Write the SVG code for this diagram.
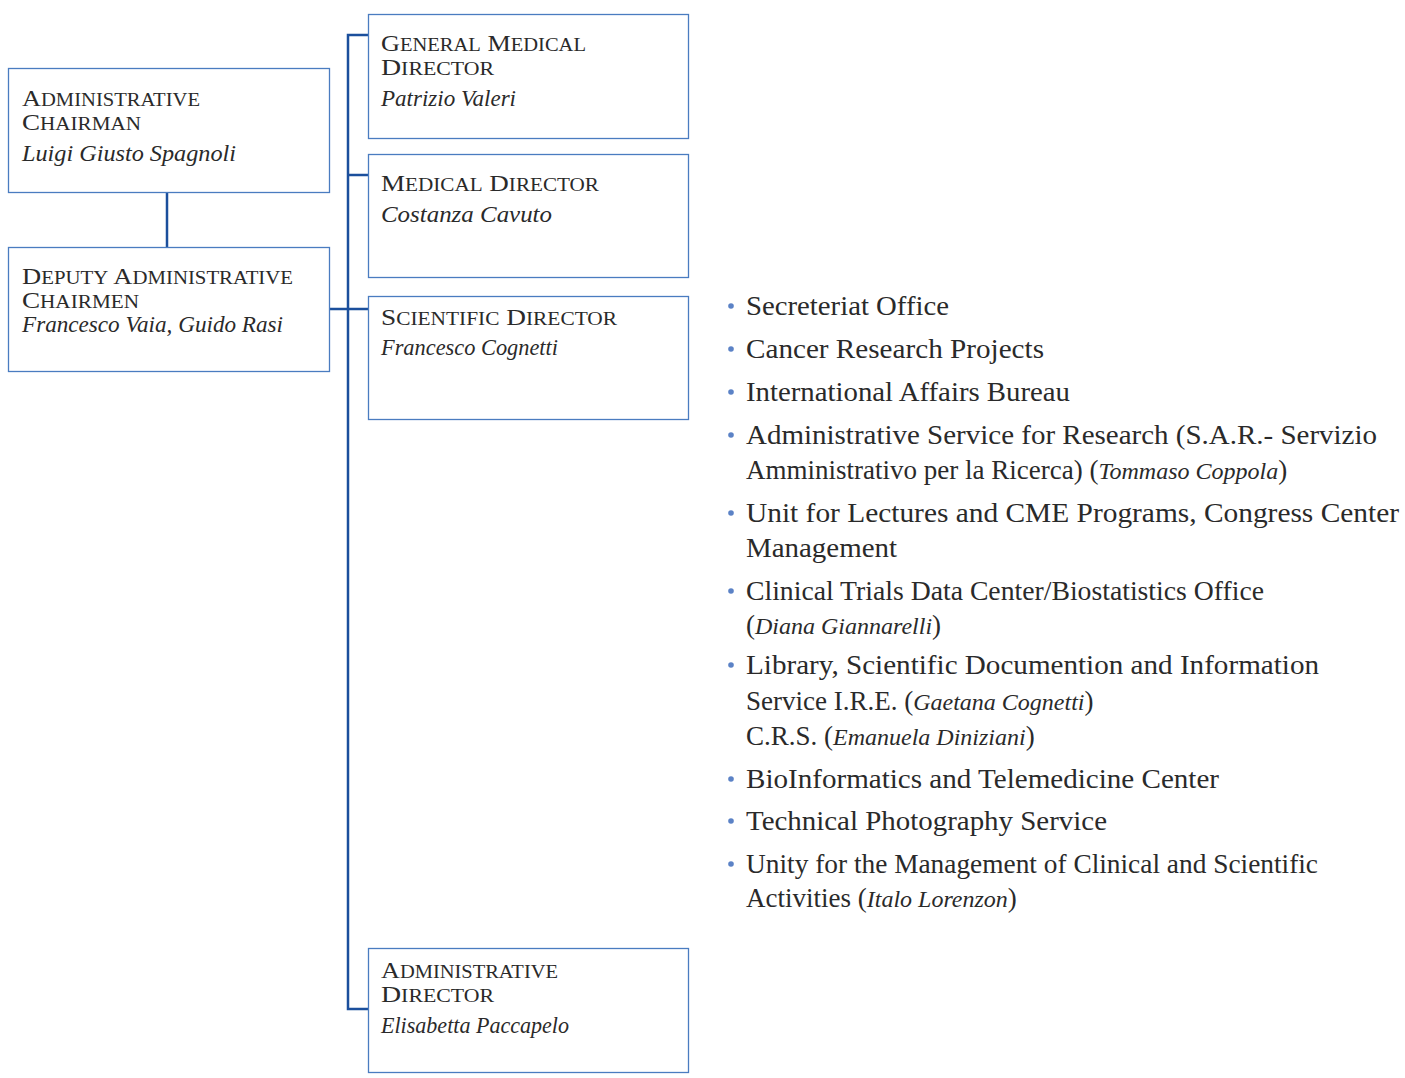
<svg xmlns="http://www.w3.org/2000/svg" width="1405" height="1078" viewBox="0 0 1405 1078">
<style>
.box{fill:#fff;stroke:#4a7cc0;stroke-width:1.3}
.conn{fill:none;stroke:#1b4f9c;stroke-width:2.5}
.t{font-family:"Liberation Serif",serif;fill:#2a2a2a}
.c{font-size:23px}
.s{font-size:18px}
.n{font-size:24px;font-style:italic}
.l{font-family:"Liberation Serif",serif;fill:#2a2a2a;font-size:27px}
.li{font-style:italic;font-size:24px}
.b{fill:#5b82c6}
</style>
<rect width="1405" height="1078" fill="#fff"/>
<g id="connectors">
<line class="conn" x1="167" y1="192" x2="167" y2="247"/>
<polyline class="conn" points="368,35 348,35 348,1009 368,1009"/>
<line class="conn" x1="348" y1="175" x2="368" y2="175"/>
<line class="conn" x1="329" y1="309" x2="368" y2="309"/>
</g>
<g id="admin-chairman">
<rect class="box" x="8.5" y="68.5" width="321" height="124"/>
<text class="t" x="22" y="106" textLength="178" lengthAdjust="spacingAndGlyphs"><tspan class="c">A</tspan><tspan class="s">DMINISTRATIVE</tspan></text>
<text class="t" x="22" y="130" textLength="119" lengthAdjust="spacingAndGlyphs"><tspan class="c">C</tspan><tspan class="s">HAIRMAN</tspan></text>
<text class="t n" x="22" y="161" textLength="214" lengthAdjust="spacingAndGlyphs">Luigi Giusto Spagnoli</text>
</g>
<g id="deputy-chairmen">
<rect class="box" x="8.5" y="247.5" width="321" height="124"/>
<text class="t" x="22" y="284" textLength="271" lengthAdjust="spacingAndGlyphs"><tspan class="c">D</tspan><tspan class="s">EPUTY</tspan><tspan class="c"> A</tspan><tspan class="s">DMINISTRATIVE</tspan></text>
<text class="t" x="22" y="308" textLength="117" lengthAdjust="spacingAndGlyphs"><tspan class="c">C</tspan><tspan class="s">HAIRMEN</tspan></text>
<text class="t n" x="22" y="332" textLength="261" lengthAdjust="spacingAndGlyphs">Francesco Vaia, Guido Rasi</text>
</g>
<g id="general-medical-director">
<rect class="box" x="368.5" y="14.5" width="320" height="124"/>
<text class="t" x="381" y="51" textLength="205" lengthAdjust="spacingAndGlyphs"><tspan class="c">G</tspan><tspan class="s">ENERAL</tspan><tspan class="c"> M</tspan><tspan class="s">EDICAL</tspan></text>
<text class="t" x="381" y="75" textLength="113" lengthAdjust="spacingAndGlyphs"><tspan class="c">D</tspan><tspan class="s">IRECTOR</tspan></text>
<text class="t n" x="381" y="106" textLength="135" lengthAdjust="spacingAndGlyphs">Patrizio Valeri</text>
</g>
<g id="medical-director">
<rect class="box" x="368.5" y="154.5" width="320" height="123"/>
<text class="t" x="381" y="191" textLength="218" lengthAdjust="spacingAndGlyphs"><tspan class="c">M</tspan><tspan class="s">EDICAL</tspan><tspan class="c"> D</tspan><tspan class="s">IRECTOR</tspan></text>
<text class="t n" x="381" y="222" textLength="171" lengthAdjust="spacingAndGlyphs">Costanza Cavuto</text>
</g>
<g id="scientific-director">
<rect class="box" x="368.5" y="296.5" width="320" height="123"/>
<text class="t" x="381" y="325" textLength="236" lengthAdjust="spacingAndGlyphs"><tspan class="c">S</tspan><tspan class="s">CIENTIFIC</tspan><tspan class="c"> D</tspan><tspan class="s">IRECTOR</tspan></text>
<text class="t n" x="381" y="355" textLength="177" lengthAdjust="spacingAndGlyphs">Francesco Cognetti</text>
</g>
<g id="administrative-director">
<rect class="box" x="368.5" y="948.5" width="320" height="124"/>
<text class="t" x="381" y="978" textLength="177" lengthAdjust="spacingAndGlyphs"><tspan class="c">A</tspan><tspan class="s">DMINISTRATIVE</tspan></text>
<text class="t" x="381" y="1002" textLength="113" lengthAdjust="spacingAndGlyphs"><tspan class="c">D</tspan><tspan class="s">IRECTOR</tspan></text>
<text class="t n" x="381" y="1033" textLength="188" lengthAdjust="spacingAndGlyphs">Elisabetta Paccapelo</text>
</g>
<g id="scientific-units">
<circle class="b" cx="731" cy="306" r="2.8"/>
<circle class="b" cx="731" cy="349" r="2.8"/>
<circle class="b" cx="731" cy="392" r="2.8"/>
<circle class="b" cx="731" cy="435" r="2.8"/>
<circle class="b" cx="731" cy="513" r="2.8"/>
<circle class="b" cx="731" cy="591" r="2.8"/>
<circle class="b" cx="731" cy="665" r="2.8"/>
<circle class="b" cx="731" cy="779" r="2.8"/>
<circle class="b" cx="731" cy="821" r="2.8"/>
<circle class="b" cx="731" cy="864" r="2.8"/>
<text class="l" x="746" y="315" textLength="203" lengthAdjust="spacingAndGlyphs">Secreteriat Office</text>
<text class="l" x="746" y="358" textLength="298" lengthAdjust="spacingAndGlyphs">Cancer Research Projects</text>
<text class="l" x="746" y="401" textLength="324" lengthAdjust="spacingAndGlyphs">International Affairs Bureau</text>
<text class="l" x="746" y="444" textLength="631" lengthAdjust="spacingAndGlyphs">Administrative Service for Research (S.A.R.- Servizio</text>
<text class="l" x="746" y="479">Amministrativo per la Ricerca) (<tspan class="li">Tommaso Coppola</tspan>)</text>
<text class="l" x="746" y="522" textLength="653" lengthAdjust="spacingAndGlyphs">Unit for Lectures and CME Programs, Congress Center</text>
<text class="l" x="746" y="557" textLength="151" lengthAdjust="spacingAndGlyphs">Management</text>
<text class="l" x="746" y="600" textLength="518" lengthAdjust="spacingAndGlyphs">Clinical Trials Data Center/Biostatistics Office</text>
<text class="l" x="746" y="634">(<tspan class="li">Diana Giannarelli</tspan>)</text>
<text class="l" x="746" y="674" textLength="573" lengthAdjust="spacingAndGlyphs">Library, Scientific Documention and Information</text>
<text class="l" x="746" y="710">Service I.R.E. (<tspan class="li">Gaetana Cognetti</tspan>)</text>
<text class="l" x="746" y="745">C.R.S. (<tspan class="li">Emanuela Diniziani</tspan>)</text>
<text class="l" x="746" y="788" textLength="473" lengthAdjust="spacingAndGlyphs">BioInformatics and Telemedicine Center</text>
<text class="l" x="746" y="830" textLength="361" lengthAdjust="spacingAndGlyphs">Technical Photography Service</text>
<text class="l" x="746" y="873" textLength="572" lengthAdjust="spacingAndGlyphs">Unity for the Management of Clinical and Scientific</text>
<text class="l" x="746" y="907">Activities (<tspan class="li">Italo Lorenzon</tspan>)</text>
</g>
</svg>
